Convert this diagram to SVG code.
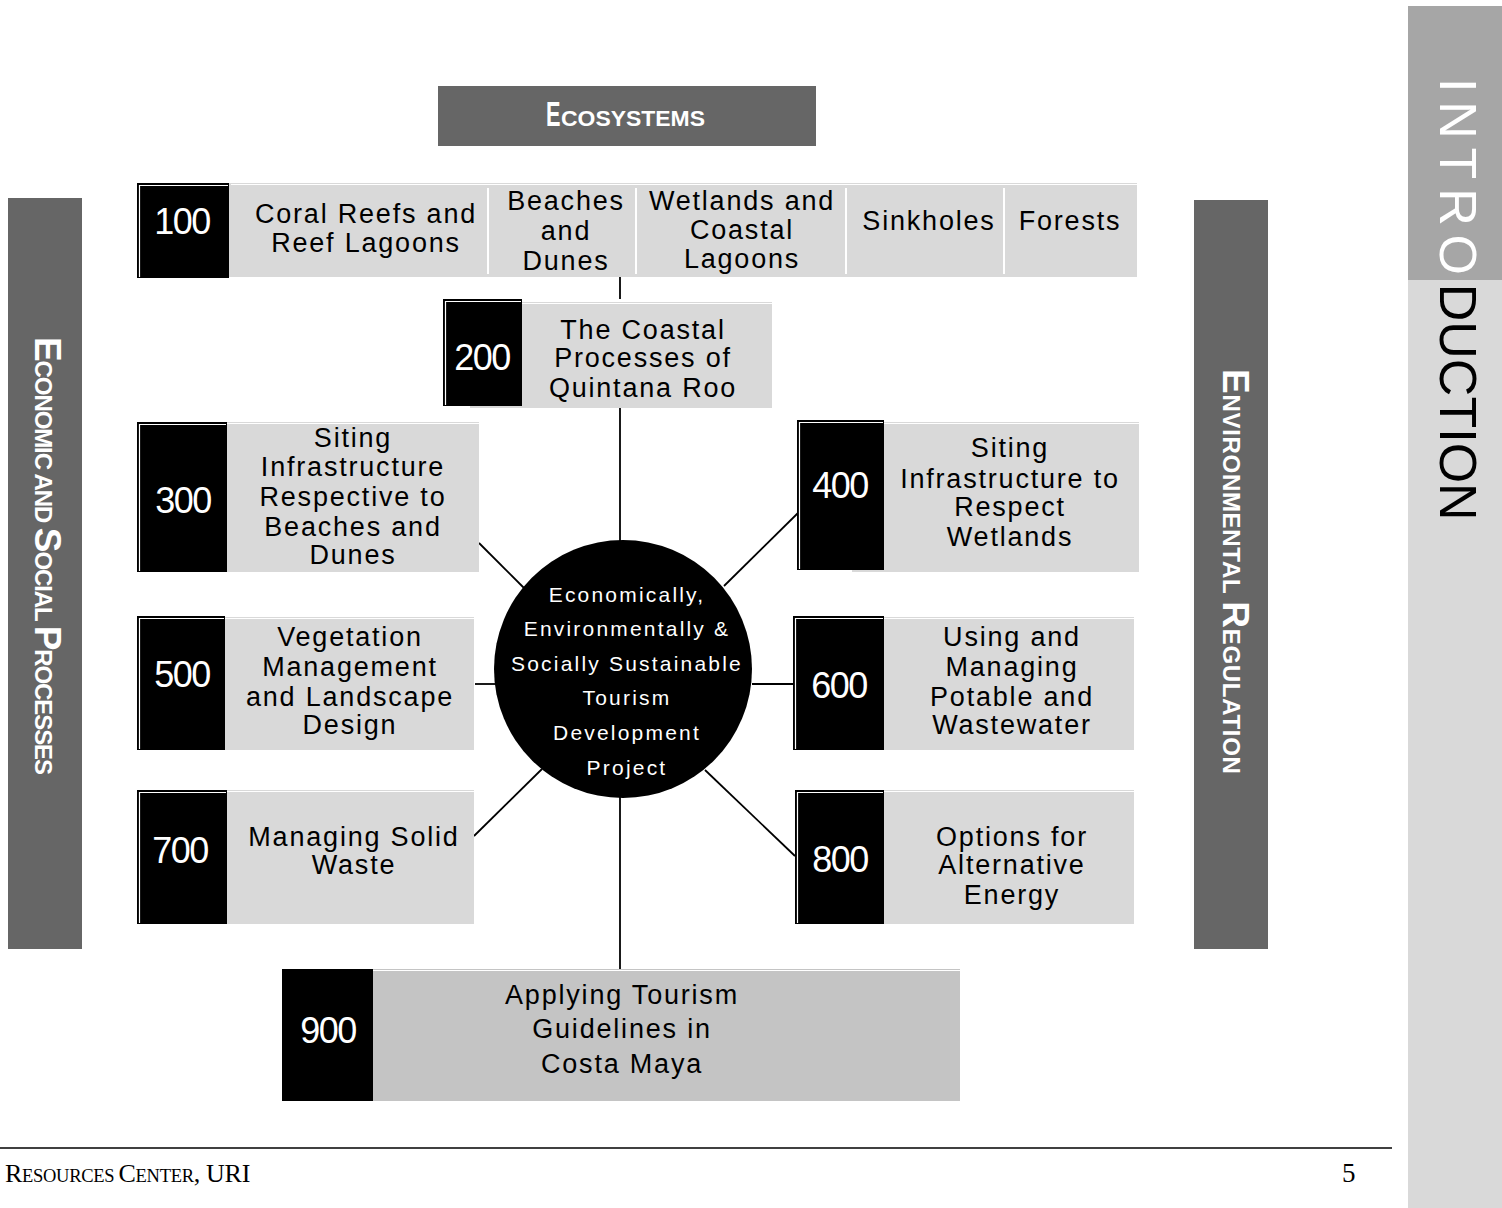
<svg xmlns="http://www.w3.org/2000/svg" width="1502" height="1208" viewBox="0 0 1502 1208">
<style>
text{font-family:"Liberation Sans",Arial,Helvetica,sans-serif}
.lbl{font-size:27px;letter-spacing:1.8px;text-anchor:middle;fill:#000}
.num{font-size:36px;letter-spacing:-1.5px;text-anchor:middle;fill:#fff}
.ctr{font-size:21px;letter-spacing:2.2px;text-anchor:middle;fill:#fff}
.gray{fill:#d9d9d9}
.blk{fill:#000}
.inner{stroke:#fff;stroke-width:1.2;fill:none}
.hl{stroke:#fff;stroke-width:1;fill:none}
.conn{stroke:#000;stroke-width:1.8;fill:none}
.band{fill:#666666}
.side{font-weight:bold;fill:#fff}
.big{font-size:37px}
.sm{font-size:24px}
.serif{font-family:"Liberation Serif","Times New Roman",serif;fill:#000}
</style>

<g id="sidebar-introduction">
<rect x="1408" y="278" width="94" height="930" fill="#d9d9d9"/>
<rect x="1408" y="6" width="94" height="274" fill="#a6a6a6"/>
<text transform="translate(1440,78) rotate(90)" font-size="52"><tspan fill="#fff" letter-spacing="8.8">INTRO</tspan><tspan fill="#000">DUCTION</tspan></text>
</g>

<g id="header-ecosystems">
<rect x="438" y="86" width="378" height="60" class="band"/>
<text transform="translate(546,126) scale(0.62,1)" class="side" font-size="35">E</text>
<text x="561" y="126" class="side" font-size="22" textLength="144" lengthAdjust="spacingAndGlyphs">COSYSTEMS</text>
</g>

<g id="label-economic-social">
<rect x="8" y="198" width="74" height="751" class="band"/>
<text transform="translate(35,337) rotate(90)" class="side" letter-spacing="-1.1"><tspan class="big">E</tspan><tspan class="sm">CONOMIC AND </tspan><tspan class="big">S</tspan><tspan class="sm">OCIAL </tspan><tspan class="big">P</tspan><tspan class="sm">ROCESSES</tspan></text>
</g>

<g id="label-environmental-regulation">
<rect x="1194" y="200" width="74" height="749" class="band"/>
<text transform="translate(1223,369) rotate(90)" class="side" letter-spacing="0.7"><tspan class="big">E</tspan><tspan class="sm">NVIRONMENTAL </tspan><tspan class="big">R</tspan><tspan class="sm">EGULATION</tspan></text>
</g>

<g id="connectors">
<path class="conn" d="M620,277 V299"/>
<path class="conn" d="M620,408 V541"/>
<path class="conn" d="M620,797 V969"/>
<path class="conn" d="M479,543 L524,588"/>
<path class="conn" d="M800,511 L724,586"/>
<path class="conn" d="M475,684 H497"/>
<path class="conn" d="M752,684 H793"/>
<path class="conn" d="M474,836 L542,769"/>
<path class="conn" d="M705,770 L795,856"/>
</g>

<g id="node-100">
<rect x="229" y="183" width="908" height="94" class="gray"/>
<path class="hl" d="M231,184.5 H1137"/>
<path d="M488,188 V274 M636,188 V274 M846,188 V274 M1004,188 V274" stroke="#fff" stroke-width="2"/>
<rect x="137" y="183" width="92" height="95" class="blk"/>
<path class="inner" d="M139.5,277 V185.5 H228"/>
<text x="182" y="234" class="num">100</text>
<text class="lbl"><tspan x="366" y="223">Coral Reefs and</tspan><tspan x="366" y="252">Reef Lagoons</tspan></text>
<text class="lbl"><tspan x="566" y="210">Beaches</tspan><tspan x="566" y="240">and</tspan><tspan x="566" y="270">Dunes</tspan></text>
<text class="lbl"><tspan x="742" y="210">Wetlands and</tspan><tspan x="742" y="239">Coastal</tspan><tspan x="742" y="268">Lagoons</tspan></text>
<text x="929" y="230" class="lbl">Sinkholes</text>
<text x="1070" y="230" class="lbl">Forests</text>
</g>

<g id="node-200">
<rect x="470" y="302" width="302" height="106" class="gray"/>
<path class="hl" d="M522,303.5 H772"/>
<rect x="443" y="299" width="79" height="107" class="blk"/>
<path class="inner" d="M445.5,405 V301.5 H521"/>
<text x="482" y="370" class="num">200</text>
<text class="lbl"><tspan x="643" y="339">The Coastal</tspan><tspan x="643" y="367">Processes of</tspan><tspan x="643" y="397">Quintana Roo</tspan></text>
</g>

<g id="node-center">
<circle cx="623" cy="669" r="129" fill="#000"/>
<text class="ctr"><tspan x="627" y="602">Economically,</tspan><tspan x="627" y="636">Environmentally &amp;</tspan><tspan x="627" y="671">Socially Sustainable</tspan><tspan x="627" y="705">Tourism</tspan><tspan x="627" y="740">Development</tspan><tspan x="627" y="775">Project</tspan></text>
</g>

<g id="node-300">
<rect x="200" y="422" width="279" height="150" class="gray"/>
<path class="hl" d="M227,423.5 H479"/>
<rect x="137" y="422" width="90" height="150" class="blk"/>
<path class="inner" d="M139.5,571 V424.5 H226"/>
<text x="183" y="513" class="num">300</text>
<text class="lbl"><tspan x="353" y="447">Siting</tspan><tspan x="353" y="476">Infrastructure</tspan><tspan x="353" y="506">Respective to</tspan><tspan x="353" y="536">Beaches and</tspan><tspan x="353" y="564">Dunes</tspan></text>
</g>

<g id="node-400">
<rect x="852" y="422" width="287" height="150" class="gray"/>
<path class="hl" d="M884,423.5 H1139"/>
<rect x="797" y="420" width="87" height="150" class="blk"/>
<path class="inner" d="M799.5,569 V422.5 H883"/>
<text x="840" y="498" class="num">400</text>
<text class="lbl"><tspan x="1010" y="457">Siting</tspan><tspan x="1010" y="488">Infrastructure to</tspan><tspan x="1010" y="516">Respect</tspan><tspan x="1010" y="546">Wetlands</tspan></text>
</g>

<g id="node-500">
<rect x="200" y="617" width="274" height="133" class="gray"/>
<path class="hl" d="M225,618.5 H474"/>
<rect x="137" y="616" width="88" height="134" class="blk"/>
<path class="inner" d="M139.5,749 V618.5 H224"/>
<text x="182" y="687" class="num">500</text>
<text class="lbl"><tspan x="350" y="646">Vegetation</tspan><tspan x="350" y="676">Management</tspan><tspan x="350" y="706">and Landscape</tspan><tspan x="350" y="734">Design</tspan></text>
</g>

<g id="node-600">
<rect x="860" y="617" width="274" height="133" class="gray"/>
<path class="hl" d="M884,618.5 H1134"/>
<rect x="793" y="616" width="91" height="134" class="blk"/>
<path class="inner" d="M795.5,749 V618.5 H883"/>
<text x="839" y="698" class="num">600</text>
<text class="lbl"><tspan x="1012" y="646">Using and</tspan><tspan x="1012" y="676">Managing</tspan><tspan x="1012" y="706">Potable and</tspan><tspan x="1012" y="734">Wastewater</tspan></text>
</g>

<g id="node-700">
<rect x="200" y="790" width="274" height="134" class="gray"/>
<path class="hl" d="M227,791.5 H474"/>
<rect x="137" y="790" width="90" height="134" class="blk"/>
<path class="inner" d="M139.5,923 V792.5 H226"/>
<text x="180" y="863" class="num">700</text>
<text class="lbl"><tspan x="354" y="846">Managing Solid</tspan><tspan x="354" y="874">Waste</tspan></text>
</g>

<g id="node-800">
<rect x="860" y="790" width="274" height="134" class="gray"/>
<path class="hl" d="M884,791.5 H1134"/>
<rect x="795" y="790" width="89" height="134" class="blk"/>
<path class="inner" d="M797.5,923 V792.5 H883"/>
<text x="840" y="872" class="num">800</text>
<text class="lbl"><tspan x="1012" y="846">Options for</tspan><tspan x="1012" y="874">Alternative</tspan><tspan x="1012" y="904">Energy</tspan></text>
</g>

<g id="node-900">
<rect x="373" y="969" width="587" height="132" fill="#c4c4c4"/>
<path class="hl" d="M373,970.5 H960"/>
<rect x="282" y="969" width="91" height="132" class="blk"/>
<text x="328" y="1043" class="num">900</text>
<text class="lbl"><tspan x="622" y="1004">Applying Tourism</tspan><tspan x="622" y="1038">Guidelines in</tspan><tspan x="622" y="1073">Costa Maya</tspan></text>
</g>

<g id="footer">
<path d="M0,1148 H1392" stroke="#000" stroke-width="1.5"/>
<text x="5" y="1182" class="serif" letter-spacing="-0.3"><tspan font-size="26">R</tspan><tspan font-size="18.5">ESOURCES </tspan><tspan font-size="26">C</tspan><tspan font-size="18.5">ENTER</tspan><tspan font-size="26">, URI</tspan></text>
<text x="1342" y="1182" class="serif" font-size="27">5</text>
</g>
</svg>
